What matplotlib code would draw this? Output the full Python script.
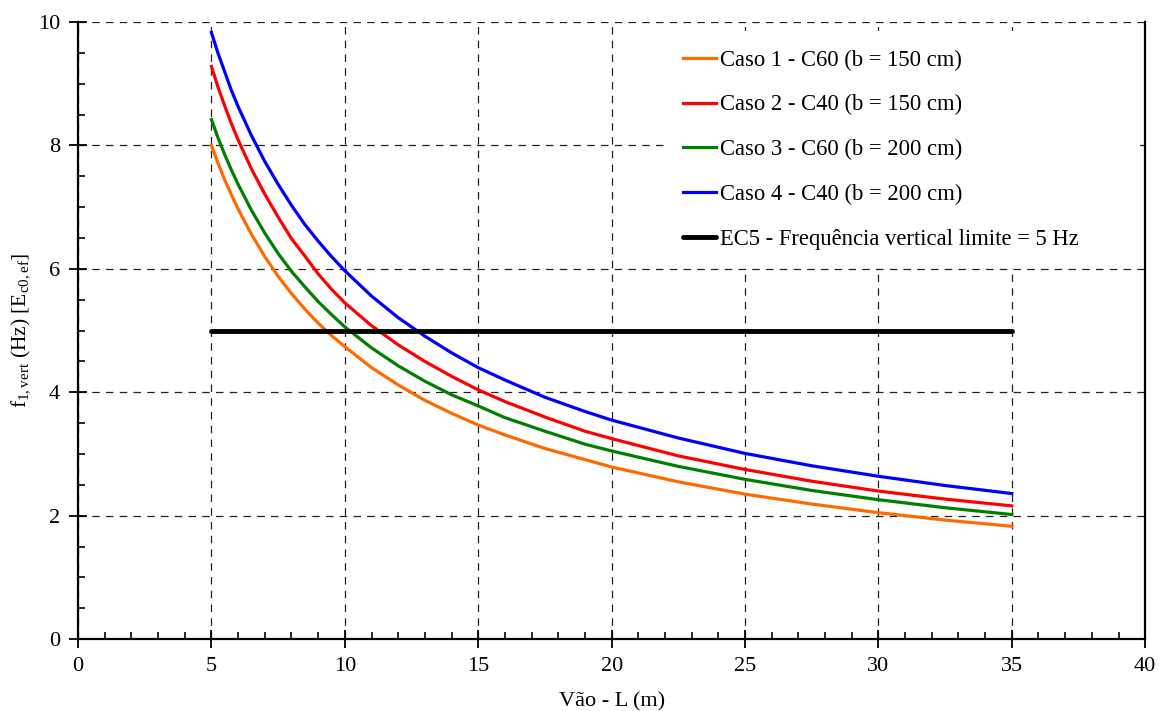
import matplotlib
matplotlib.use("Agg")
import matplotlib.pyplot as plt
from matplotlib.ticker import MultipleLocator

plt.rcParams['font.family'] = ['Liberation Serif', 'DejaVu Serif']
plt.rcParams['mathtext.fontset'] = 'custom'
plt.rcParams['mathtext.rm'] = 'Liberation Serif'
plt.rcParams['mathtext.it'] = 'Liberation Serif:italic'

# vão L (m)
vao = [5, 5.25, 5.5, 5.75, 6, 6.5, 7, 7.5, 8, 8.5, 9, 9.5, 10, 11, 12, 13, 14, 15,
       16, 17.5, 19, 20, 22.5, 25, 27.5, 30, 32.5, 35]

# frequência vertical (Hz)
caso1 = [8.00, 7.71, 7.44, 7.20, 6.97, 6.56, 6.20, 5.88, 5.60, 5.35, 5.12, 4.92, 4.74,
         4.40, 4.12, 3.87, 3.66, 3.47, 3.31, 3.09, 2.91, 2.79, 2.55, 2.35, 2.19, 2.05, 1.93, 1.83]
caso2 = [9.28, 8.94, 8.64, 8.35, 8.09, 7.62, 7.21, 6.84, 6.49, 6.21, 5.92, 5.67, 5.45,
         5.08, 4.77, 4.50, 4.26, 4.04, 3.85, 3.60, 3.37, 3.25, 2.97, 2.75, 2.56, 2.40, 2.27, 2.16]
caso3 = [8.42, 8.12, 7.85, 7.60, 7.37, 6.95, 6.58, 6.25, 5.96, 5.71, 5.47, 5.26, 5.06,
         4.72, 4.43, 4.18, 3.96, 3.78, 3.59, 3.37, 3.16, 3.05, 2.80, 2.59, 2.41, 2.26, 2.13, 2.02]
caso4 = [9.83, 9.49, 9.19, 8.89, 8.63, 8.16, 7.74, 7.37, 7.03, 6.72, 6.45, 6.20, 5.97,
         5.56, 5.21, 4.91, 4.64, 4.40, 4.20, 3.92, 3.69, 3.55, 3.26, 3.01, 2.81, 2.64, 2.49, 2.36]

limite_x = [5, 35]
limite_y = [5, 5]

labels = ['Caso 1 - C60 (b = 150 cm)', 'Caso 2 - C40 (b = 150 cm)',
          'Caso 3 - C60 (b = 200 cm)', 'Caso 4 - C40 (b = 200 cm)',
          'EC5 - Frequência vertical limite = 5 Hz']
cores = ['#ff6a00', '#ff0000', '#007f00', '#0000ff']

fig = plt.figure(figsize=(11.65, 7.11), dpi=100)
ax = fig.add_axes([0.067, 0.101, 0.916, 0.868])

for serie, cor, lab in zip([caso1, caso2, caso3, caso4], cores, labels[:4]):
    ax.plot(vao, serie, color=cor, lw=2.3, label=lab, zorder=3)
ax.plot(limite_x, limite_y, color='black', lw=3.5, label=labels[4],
        solid_capstyle='round', zorder=3)

ax.set_xlim(0, 40)
ax.set_ylim(0, 10)
ax.xaxis.set_major_locator(MultipleLocator(5))
ax.xaxis.set_minor_locator(MultipleLocator(1))
ax.yaxis.set_major_locator(MultipleLocator(2))
ax.yaxis.set_minor_locator(MultipleLocator(0.5))

ax.tick_params(which='major', direction='inout', length=13, width=1.3,
               labelsize=16, top=False, right=False)
ax.tick_params(which='minor', direction='in', length=5, width=1.2,
               top=False, right=False)
ax.tick_params(axis='x', which='major', pad=6)
ax.tick_params(axis='y', which='major', pad=6.5)

ax.grid(True, which='major', color='#222222', ls=(0, (6, 5)), lw=0.9)
ax.spines['top'].set_visible(False)
for s in ['left', 'bottom', 'right']:
    ax.spines[s].set_linewidth(1.6)

ax.set_xlabel('Vão - L (m)', fontsize=16, labelpad=12)
ax.set_ylabel(r'$\mathregular{f_{1,vert}}$ (Hz) [E$\mathregular{_{c0,ef}}$]', fontsize=15.5, labelpad=4)

leg = ax.legend(loc='upper left', bbox_to_anchor=(0.550, 0.608, 0.445, 0.377),
                mode='expand', borderaxespad=0, frameon=True, fancybox=False,
                fontsize=16.3, handlelength=1.45, handletextpad=0.2,
                labelspacing=1.05, borderpad=0.8)
leg.get_frame().set_facecolor('white')
leg.get_frame().set_edgecolor('none')
leg.get_frame().set_alpha(1)

fig.savefig('out.png', dpi=100)
